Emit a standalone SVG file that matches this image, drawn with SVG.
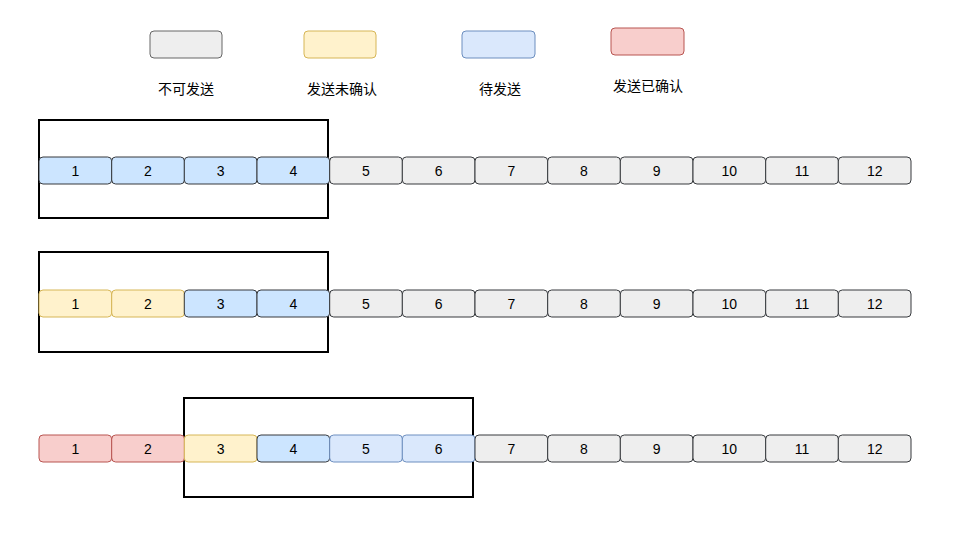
<svg xmlns="http://www.w3.org/2000/svg" width="976" height="536" viewBox="0 0 976 536">
<style>
text{font-family:"Liberation Sans","Noto Sans CJK SC",sans-serif;font-size:14px;fill:#000;text-anchor:middle;dominant-baseline:central}
.g{fill:#eeeeee;stroke:#36393d}
.b{fill:#cce5ff;stroke:#36393d}
.y{fill:#fff2cc;stroke:#d6b656}
.r{fill:#f8cecc;stroke:#b85450}
.l{fill:#dae8fc;stroke:#6c8ebf}
.lg{fill:#eeeeee;stroke:#666666}
.win{fill:none;stroke:#000;stroke-width:2}
</style>
<rect width="976" height="536" fill="#fff"/>
<g id="legend">
<g id="leg-gray"><rect class="lg" x="150" y="31" width="72" height="27" rx="4"/><text x="186" y="89">不可发送</text></g>
<g id="leg-yellow"><rect class="y" x="304" y="31" width="72" height="27" rx="4"/><text x="342" y="89">发送未确认</text></g>
<g id="leg-blue"><rect class="l" x="462" y="31" width="73" height="27" rx="4"/><text x="500" y="89">待发送</text></g>
<g id="leg-red"><rect class="r" x="611" y="28" width="73" height="27" rx="4"/><text x="648" y="86">发送已确认</text></g>
</g>
<g id="windows">
<rect id="win1" class="win" x="39" y="120" width="289" height="98"/>
<rect id="win2" class="win" x="39" y="252" width="289" height="100"/>
<rect id="win3" class="win" x="184" y="398" width="289" height="99"/>
</g>
<g id="row1">
<g id="r1c1"><rect class="b" x="39" y="157" width="72.7" height="27" rx="4"/><text x="75.3" y="171">1</text></g>
<g id="r1c2"><rect class="b" x="111.7" y="157" width="72.7" height="27" rx="4"/><text x="148" y="171">2</text></g>
<g id="r1c3"><rect class="b" x="184.3" y="157" width="72.7" height="27" rx="4"/><text x="220.7" y="171">3</text></g>
<g id="r1c4"><rect class="b" x="257" y="157" width="72.7" height="27" rx="4"/><text x="293.3" y="171">4</text></g>
<g id="r1c5"><rect class="g" x="329.7" y="157" width="72.7" height="27" rx="4"/><text x="366" y="171">5</text></g>
<g id="r1c6"><rect class="g" x="402.3" y="157" width="72.7" height="27" rx="4"/><text x="438.7" y="171">6</text></g>
<g id="r1c7"><rect class="g" x="475" y="157" width="72.7" height="27" rx="4"/><text x="511.3" y="171">7</text></g>
<g id="r1c8"><rect class="g" x="547.7" y="157" width="72.7" height="27" rx="4"/><text x="584" y="171">8</text></g>
<g id="r1c9"><rect class="g" x="620.3" y="157" width="72.7" height="27" rx="4"/><text x="656.7" y="171">9</text></g>
<g id="r1c10"><rect class="g" x="693" y="157" width="72.7" height="27" rx="4"/><text x="729.3" y="171">10</text></g>
<g id="r1c11"><rect class="g" x="765.7" y="157" width="72.7" height="27" rx="4"/><text x="802" y="171">11</text></g>
<g id="r1c12"><rect class="g" x="838.3" y="157" width="72.7" height="27" rx="4"/><text x="874.7" y="171">12</text></g>
</g>
<g id="row2">
<g id="r2c1"><rect class="y" x="39" y="290" width="72.7" height="27" rx="4"/><text x="75.3" y="304">1</text></g>
<g id="r2c2"><rect class="y" x="111.7" y="290" width="72.7" height="27" rx="4"/><text x="148" y="304">2</text></g>
<g id="r2c3"><rect class="b" x="184.3" y="290" width="72.7" height="27" rx="4"/><text x="220.7" y="304">3</text></g>
<g id="r2c4"><rect class="b" x="257" y="290" width="72.7" height="27" rx="4"/><text x="293.3" y="304">4</text></g>
<g id="r2c5"><rect class="g" x="329.7" y="290" width="72.7" height="27" rx="4"/><text x="366" y="304">5</text></g>
<g id="r2c6"><rect class="g" x="402.3" y="290" width="72.7" height="27" rx="4"/><text x="438.7" y="304">6</text></g>
<g id="r2c7"><rect class="g" x="475" y="290" width="72.7" height="27" rx="4"/><text x="511.3" y="304">7</text></g>
<g id="r2c8"><rect class="g" x="547.7" y="290" width="72.7" height="27" rx="4"/><text x="584" y="304">8</text></g>
<g id="r2c9"><rect class="g" x="620.3" y="290" width="72.7" height="27" rx="4"/><text x="656.7" y="304">9</text></g>
<g id="r2c10"><rect class="g" x="693" y="290" width="72.7" height="27" rx="4"/><text x="729.3" y="304">10</text></g>
<g id="r2c11"><rect class="g" x="765.7" y="290" width="72.7" height="27" rx="4"/><text x="802" y="304">11</text></g>
<g id="r2c12"><rect class="g" x="838.3" y="290" width="72.7" height="27" rx="4"/><text x="874.7" y="304">12</text></g>
</g>
<g id="row3">
<g id="r3c1"><rect class="r" x="39" y="435" width="72.7" height="27" rx="4"/><text x="75.3" y="449">1</text></g>
<g id="r3c2"><rect class="r" x="111.7" y="435" width="72.7" height="27" rx="4"/><text x="148" y="449">2</text></g>
<g id="r3c3"><rect class="y" x="184.3" y="435" width="72.7" height="27" rx="4"/><text x="220.7" y="449">3</text></g>
<g id="r3c4"><rect class="b" x="257" y="435" width="72.7" height="27" rx="4"/><text x="293.3" y="449">4</text></g>
<g id="r3c5"><rect class="l" x="329.7" y="435" width="72.7" height="27" rx="4"/><text x="366" y="449">5</text></g>
<g id="r3c6"><rect class="l" x="402.3" y="435" width="72.7" height="27" rx="4"/><text x="438.7" y="449">6</text></g>
<g id="r3c7"><rect class="g" x="475" y="435" width="72.7" height="27" rx="4"/><text x="511.3" y="449">7</text></g>
<g id="r3c8"><rect class="g" x="547.7" y="435" width="72.7" height="27" rx="4"/><text x="584" y="449">8</text></g>
<g id="r3c9"><rect class="g" x="620.3" y="435" width="72.7" height="27" rx="4"/><text x="656.7" y="449">9</text></g>
<g id="r3c10"><rect class="g" x="693" y="435" width="72.7" height="27" rx="4"/><text x="729.3" y="449">10</text></g>
<g id="r3c11"><rect class="g" x="765.7" y="435" width="72.7" height="27" rx="4"/><text x="802" y="449">11</text></g>
<g id="r3c12"><rect class="g" x="838.3" y="435" width="72.7" height="27" rx="4"/><text x="874.7" y="449">12</text></g>
</g>
<g id="connectors"/>
</svg>
